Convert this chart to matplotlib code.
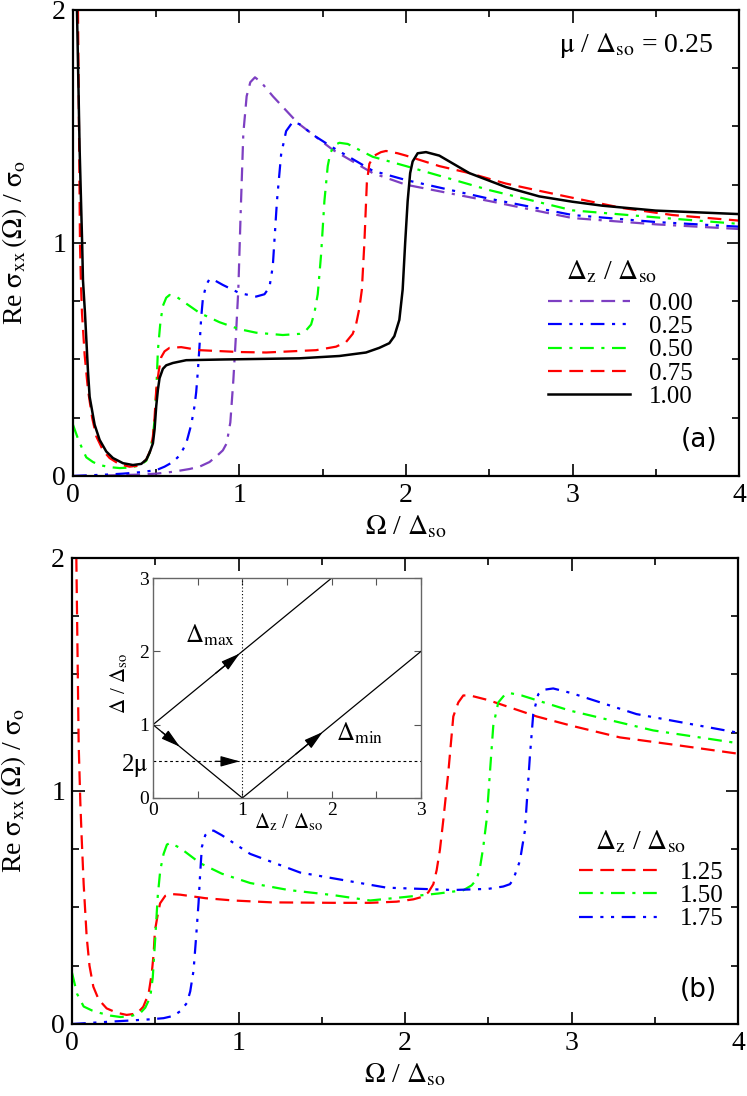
import numpy as np
import matplotlib.pyplot as plt

plt.rcParams['font.family'] = 'serif'
plt.rcParams['font.serif'] = ['Liberation Serif', 'DejaVu Serif']
plt.rcParams['mathtext.fontset'] = 'stix'

# ---- panel (a): mu/Dso = 0.25, Dz/Dso = 0.00 ... 1.00 ----
a_x_000 = [0.0, 0.2, 0.4, 0.5, 0.6, 0.7, 0.76, 0.82, 0.87, 0.9, 0.923, 0.945, 0.963, 0.98, 0.993,
           1.008, 1.023, 1.043, 1.065, 1.093, 1.13, 1.2, 1.35, 1.56, 1.8, 2.0, 2.5, 3.0, 3.5, 4.0]
a_y_000 = [0.0, 0.002, 0.006, 0.01, 0.018, 0.03, 0.04, 0.06, 0.09, 0.11, 0.14, 0.23, 0.41, 0.62, 0.80,
           1.15, 1.47, 1.63, 1.69, 1.711, 1.69, 1.63, 1.515, 1.40, 1.30, 1.25, 1.18, 1.107, 1.08, 1.06]

a_x_025 = [0.0, 0.1, 0.2, 0.3, 0.4, 0.5, 0.55, 0.6, 0.643, 0.68, 0.71, 0.73, 0.74, 0.75, 0.76, 0.77,
           0.78, 0.80, 0.82, 0.85, 0.9, 1.0, 1.1, 1.15, 1.18, 1.2, 1.225, 1.25, 1.28, 1.32, 1.36,
           1.45, 1.56, 1.8, 2.0, 2.5, 3.0, 3.5, 4.0]
a_y_025 = [0.0, 0.003, 0.006, 0.01, 0.016, 0.025, 0.04, 0.06, 0.09, 0.14, 0.22, 0.30, 0.36, 0.45, 0.56, 0.68,
           0.76, 0.82, 0.845, 0.84, 0.82, 0.785, 0.77, 0.78, 0.81, 0.90, 1.18, 1.38, 1.48, 1.52, 1.51,
           1.46, 1.41, 1.31, 1.27, 1.19, 1.12, 1.09, 1.07]

a_x_050 = [0.0, 0.03, 0.06, 0.08, 0.12, 0.16, 0.22, 0.28, 0.34, 0.40, 0.44, 0.46, 0.48, 0.49, 0.50, 0.51,
           0.525, 0.54, 0.56, 0.58, 0.62, 0.7, 0.76, 0.88, 1.0, 1.1, 1.26, 1.36, 1.40, 1.43, 1.45, 1.47,
           1.49, 1.51, 1.53, 1.545, 1.57, 1.6, 1.65, 1.8, 2.0, 2.5, 3.0, 3.5, 4.0]
a_y_050 = [0.22, 0.16, 0.11, 0.08, 0.06, 0.047, 0.038, 0.034, 0.036, 0.045, 0.065, 0.1, 0.17, 0.24, 0.36, 0.54,
           0.66, 0.73, 0.765, 0.777, 0.77, 0.73, 0.70, 0.66, 0.63, 0.615, 0.605, 0.61, 0.625, 0.65, 0.70, 0.78,
           0.95, 1.18, 1.33, 1.385, 1.42, 1.43, 1.425, 1.37, 1.33, 1.227, 1.14, 1.11, 1.082]

a_x_075 = [0.03, 0.036, 0.042, 0.048, 0.054, 0.07, 0.09, 0.115, 0.14, 0.18, 0.22, 0.28, 0.34, 0.40, 0.44,
           0.465, 0.48, 0.49, 0.50, 0.515, 0.53, 0.55, 0.58, 0.65, 0.76, 1.0, 1.16, 1.46, 1.58, 1.64, 1.68,
           1.70, 1.72, 1.735, 1.75, 1.765, 1.78, 1.81, 1.85, 1.88, 1.95, 2.0, 2.2, 2.38, 2.6, 2.8, 3.0,
           3.3, 3.6, 4.0]
a_y_075 = [2.0, 1.5, 1.0, 0.82, 0.70, 0.52, 0.37, 0.25, 0.17, 0.11, 0.077, 0.05, 0.04, 0.045, 0.07,
           0.11, 0.17, 0.25, 0.37, 0.45, 0.51, 0.535, 0.55, 0.553, 0.54, 0.532, 0.53, 0.54, 0.555, 0.575, 0.61,
           0.65, 0.72, 0.80, 1.0, 1.26, 1.34, 1.375, 1.39, 1.395, 1.385, 1.375, 1.33, 1.30, 1.255, 1.224, 1.194,
           1.15, 1.12, 1.096]

a_x_100 = [0.024, 0.04, 0.055, 0.06, 0.072, 0.09, 0.10, 0.13, 0.16, 0.2, 0.24, 0.3, 0.36, 0.41, 0.44, 0.46,
           0.48, 0.49, 0.50, 0.51, 0.52, 0.54, 0.56, 0.6, 0.68, 0.9, 1.36, 1.6, 1.76, 1.84, 1.9, 1.93, 1.96,
           1.98, 1.995, 2.01, 2.025, 2.04, 2.07, 2.12, 2.2, 2.38, 2.6, 2.8, 3.0, 3.18, 3.5, 4.0]
a_y_100 = [2.0, 1.4, 1.0, 0.84, 0.70, 0.45, 0.34, 0.22, 0.155, 0.105, 0.077, 0.055, 0.047, 0.052, 0.07, 0.1,
           0.14, 0.2, 0.30, 0.37, 0.42, 0.46, 0.475, 0.485, 0.497, 0.50, 0.505, 0.515, 0.53, 0.55, 0.57, 0.60, 0.67,
           0.80, 1.0, 1.18, 1.30, 1.35, 1.385, 1.39, 1.375, 1.30, 1.24, 1.20, 1.177, 1.16, 1.139, 1.124]

# ---- panel (b): Dz/Dso = 1.25, 1.50, 1.75 ----
b_x_125 = [0.026, 0.04, 0.05, 0.058, 0.07, 0.088, 0.105, 0.128, 0.16, 0.208, 0.27, 0.328, 0.39, 0.428, 0.46,
           0.479, 0.49, 0.498, 0.515, 0.529, 0.56, 0.589, 0.65, 0.8, 0.97, 1.2, 1.57, 1.79, 1.95, 2.05, 2.1,
           2.14, 2.17, 2.19, 2.21, 2.23, 2.26, 2.29, 2.32, 2.35, 2.39, 2.5, 2.79, 3.0, 3.29, 3.6, 4.0]
b_y_125 = [2.0, 1.2, 0.95, 0.80, 0.60, 0.375, 0.25, 0.16, 0.105, 0.067, 0.048, 0.039, 0.045, 0.074, 0.13,
           0.218, 0.30, 0.40, 0.47, 0.518, 0.55, 0.558, 0.555, 0.54, 0.53, 0.522, 0.52, 0.52, 0.525, 0.535, 0.545,
           0.565, 0.60, 0.66, 0.75, 0.876, 1.08, 1.32, 1.38, 1.41, 1.41, 1.39, 1.32, 1.28, 1.23, 1.20, 1.16]

b_x_150 = [0.0, 0.03, 0.07, 0.12, 0.17, 0.23, 0.29, 0.35, 0.41, 0.44, 0.47, 0.485, 0.50, 0.515, 0.53, 0.55,
           0.57, 0.59, 0.65, 0.77, 0.9, 1.07, 1.3, 1.57, 1.79, 2.0, 2.2, 2.35, 2.40, 2.43, 2.45, 2.47, 2.49,
           2.51, 2.53, 2.56, 2.6, 2.63, 2.7, 2.99, 3.49, 4.0]
b_y_150 = [0.22, 0.13, 0.075, 0.058, 0.047, 0.036, 0.03, 0.033, 0.047, 0.07, 0.116, 0.2, 0.37, 0.55, 0.66, 0.73,
           0.77, 0.777, 0.755, 0.69, 0.645, 0.605, 0.575, 0.553, 0.53, 0.545, 0.56, 0.574, 0.595, 0.62, 0.67, 0.76,
           0.876, 1.08, 1.28, 1.38, 1.414, 1.42, 1.41, 1.345, 1.26, 1.205]

b_x_175 = [0.0, 0.23, 0.47, 0.55, 0.61, 0.65, 0.69, 0.71, 0.73, 0.745, 0.76, 0.77, 0.78, 0.80, 0.82, 0.85,
           0.9, 1.07, 1.37, 1.77, 1.89, 2.29, 2.5, 2.59, 2.63, 2.65, 2.67, 2.69, 2.72, 2.75, 2.77, 2.80,
           2.84, 2.89, 3.0, 3.39, 4.0]
b_y_175 = [0.0, 0.01, 0.02, 0.025, 0.035, 0.055, 0.09, 0.14, 0.23, 0.37, 0.52, 0.65, 0.76, 0.81, 0.826, 0.83,
           0.81, 0.73, 0.65, 0.60, 0.585, 0.575, 0.58, 0.59, 0.60, 0.62, 0.66, 0.70, 0.83, 1.15, 1.33, 1.415,
           1.435, 1.44, 1.42, 1.33, 1.25]

# ---- inset: gaps vs Dz ----
inset_dz_max = [0.0, 2.0]
inset_max = [1.0, 3.0]
inset_dz_min = [0.0, 1.0, 3.0]
inset_min = [1.0, 0.0, 2.0]
two_mu = 0.5

labels_a = ['0.00', '0.25', '0.50', '0.75', '1.00']
labels_b = ['1.25', '1.50', '1.75']

purple = '#7d3fc2'
dash_purple = (0, (6.2, 3.4, 1.4, 3.4, 6.2, 3.4, 6.2, 3.4))
dash_blue = (0, (6.2, 3.4, 1.4, 3.4, 1.4, 3.4))
dash_green = (0, (6.2, 3.4, 1.4, 3.4))
dash_red = (0, (6.2, 3.4))

lw = 1.6
fs = 20

fig = plt.figure(figsize=(7.47, 10.96), dpi=100)
ax1 = fig.add_axes([0.0977, 0.5657, 0.8916, 0.4252])
ax2 = fig.add_axes([0.0964, 0.0657, 0.8916, 0.4252])
ins = fig.add_axes([0.2048, 0.2719, 0.3588, 0.2007])

ax1.plot(a_x_000, a_y_000, color=purple, ls=dash_purple, lw=lw, label=labels_a[0])
ax1.plot(a_x_025, a_y_025, color='#0000ff', ls=dash_blue, lw=lw, label=labels_a[1])
ax1.plot(a_x_050, a_y_050, color='#00ff00', ls=dash_green, lw=lw, label=labels_a[2])
ax1.plot(a_x_075, a_y_075, color='#ff0000', ls=dash_red, lw=lw, label=labels_a[3])
ax1.plot(a_x_100, a_y_100, color='k', ls='-', lw=lw + 0.2, label=labels_a[4])

ax2.plot(b_x_125, b_y_125, color='#ff0000', ls=dash_red, lw=lw, label=labels_b[0])
ax2.plot(b_x_150, b_y_150, color='#00ff00', ls=dash_green, lw=lw, label=labels_b[1])
ax2.plot(b_x_175, b_y_175, color='#0000ff', ls=dash_blue, lw=lw, label=labels_b[2])

ylab = r'Re $\mathrm{\sigma}_{\rm xx}\,(\Omega)$ / $\mathrm{\sigma}_{\rm o}$'
xlab = r'$\Omega$ / $\Delta_{\rm so}$'
leg_title = r'$\Delta_{\rm z}$ / $\Delta_{\rm so}$'

for ax in (ax1, ax2):
    ax.set_xlim(0, 4)
    ax.set_ylim(0, 2)
    ax.set_xticks([0, 1, 2, 3, 4])
    ax.set_xticks([0.5, 1.5, 2.5, 3.5], minor=True)
    ax.set_yticks([0, 1, 2])
    ax.set_yticks([0.25, 0.5, 0.75, 1.25, 1.5, 1.75], minor=True)
    ax.tick_params(which='both', direction='in', top=True, right=True, labelsize=fs, width=1.2, pad=5)
    ax.tick_params(which='major', length=9)
    ax.tick_params(which='minor', length=5)
    for s in ax.spines.values():
        s.set_linewidth(1.6)
    ax.set_ylabel(ylab, fontsize=fs)
    ax.yaxis.set_label_coords(-0.066, 0.5)
    ax.set_xlabel(xlab, fontsize=fs, labelpad=4)

ax1.text(0.961, 0.91, r'$\mathrm{\mu}$ / $\Delta_{\rm so}$ = 0.25', transform=ax1.transAxes,
         ha='right', va='baseline', fontsize=fs)
ax1.text(0.968, 0.077, '(a)', transform=ax1.transAxes, ha='right', va='center',
         fontsize=19, family='DejaVu Sans')
ax2.text(0.968, 0.073, '(b)', transform=ax2.transAxes, ha='right', va='center',
         fontsize=19, family='DejaVu Sans')

# legends: title drawn as text, entries through ax.legend
ax1.text(0.808, 0.438, leg_title, transform=ax1.transAxes, ha='center', va='center', fontsize=fs)
ax2.text(0.854, 0.39, leg_title, transform=ax2.transAxes, ha='center', va='center', fontsize=fs)
ax1.legend(frameon=False, fontsize=18, handlelength=3.3, handletextpad=0.75, labelspacing=0.03,
           loc='center left', bbox_to_anchor=(0.713, 0.270), borderpad=0, borderaxespad=0)
ax2.legend(frameon=False, fontsize=18, handlelength=3.3, handletextpad=0.75, labelspacing=0.03,
           loc='center left', bbox_to_anchor=(0.761, 0.275), borderpad=0, borderaxespad=0)

# inset
ins.set_zorder(5)
ins.patch.set_facecolor('white')
ins.plot(inset_dz_max, inset_max, color='k', lw=0.9)
ins.plot(inset_dz_min, inset_min, color='k', lw=0.9)
ins.axvline(1.0, color='k', lw=0.8, ls=(0, (1, 2)))
ins.axhline(two_mu, color='k', lw=0.8, ls=(0, (2.5, 2.5)))
arrow_kw = dict(arrowstyle='-|>,head_length=0.9,head_width=0.25', color='k', lw=0.9,
                shrinkA=0, shrinkB=0, mutation_scale=13)
ins.annotate('', xy=(0.97, 1.97), xytext=(0.7, 1.7), arrowprops=arrow_kw)
ins.annotate('', xy=(0.30, 0.70), xytext=(0.1, 0.9), arrowprops=arrow_kw)
ins.annotate('', xy=(0.97, two_mu), xytext=(0.7, two_mu), arrowprops=arrow_kw)
ins.annotate('', xy=(1.9, 0.9), xytext=(1.6, 0.6), arrowprops=arrow_kw)
ins.text(0.92, 2.12, r'$\Delta_{\rm max}$', ha='right', va='baseline', fontsize=18)
ins.text(2.05, 0.78, r'$\Delta_{\rm min}$', ha='left', va='baseline', fontsize=18)
ins.set_xlim(0, 3)
ins.set_ylim(0, 3)
ins.set_xticks([0, 1, 2, 3])
ins.set_xticks([0.5, 1.5, 2.5], minor=True)
ins.set_yticks([0, two_mu, 1, 2, 3])
ins.set_yticklabels(['0', r'2$\mathrm{\mu}$', '1', '2', '3'])
ins.tick_params(which='both', direction='in', top=True, right=True, labelsize=14,
                width=0.8, color='#555555', pad=3)
ins.tick_params(which='major', length=5)
ins.tick_params(which='minor', length=5)
ins.get_yticklabels()[1].set_fontsize(18)
ins.yaxis.get_major_ticks()[1].tick1line.set_visible(False)
ins.yaxis.get_major_ticks()[1].tick2line.set_visible(False)
for s in ins.spines.values():
    s.set_linewidth(1.0)
    s.set_color('#666666')
ins.set_xlabel(r'$\Delta_{\rm z}$ / $\Delta_{\rm so}$', fontsize=15)
ins.xaxis.set_label_coords(0.507, -0.06)
ins.xaxis.label.set_va('top')
ins.set_ylabel(r'$\Delta$ / $\Delta_{\rm so}$', fontsize=15)
ins.yaxis.set_label_coords(-0.085, 0.52)

fig.savefig('out.png', dpi=100)
